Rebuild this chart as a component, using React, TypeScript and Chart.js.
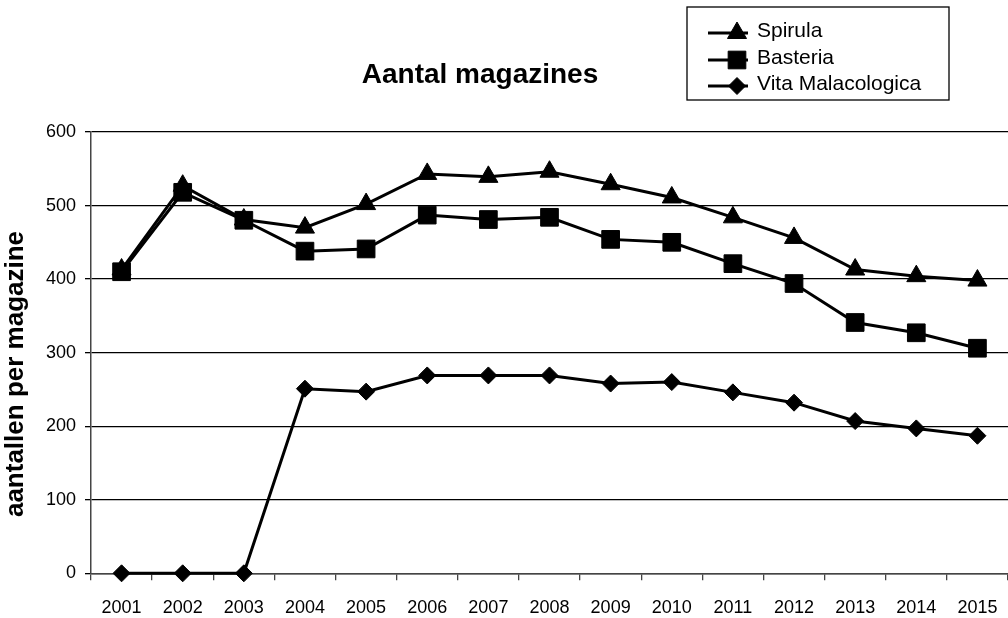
import React, { useEffect, useRef } from 'react';
import { Chart, registerables } from 'chart.js';

Chart.register(...registerables);

const FONT = '"Liberation Sans", Arial, Helvetica, sans-serif';

const TITLE = 'Aantal magazines';
const Y_TITLE = 'aantallen per magazine';

const years = ['2001', '2002', '2003', '2004', '2005', '2006', '2007', '2008', '2009', '2010', '2011', '2012', '2013', '2014', '2015'];
const spirula = [413, 527, 481, 470, 502, 543, 539, 546, 529, 511, 484, 456, 413, 404, 398];
const basteria = [410, 518, 480, 438, 441, 487, 481, 484, 454, 450, 421, 394, 341, 327, 306];
const vita = [0, 0, 0, 251, 247, 269, 269, 269, 258, 260, 246, 232, 207, 197, 187];

const seriesNames = ['Spirula', 'Basteria', 'Vita Malacologica'];
const seriesValues = [spirula, basteria, vita];
const seriesMarkers = ['triangle', 'rect', 'rectRot'];
const markerRadii = [11, 12.5, 8.5];

const yMin = 0;
const yMax = 600;
const yStep = 100;

function drawMarker(ctx: CanvasRenderingContext2D, style: string, x: number, y: number, r: number) {
  ctx.beginPath();
  if (style === 'triangle') {
    ctx.moveTo(x, y - r);
    ctx.lineTo(x + r * Math.sin(Math.PI * 2 / 3), y + r / 2);
    ctx.lineTo(x - r * Math.sin(Math.PI * 2 / 3), y + r / 2);
    ctx.closePath();
  } else if (style === 'rect') {
    const s = Math.SQRT1_2 * r;
    ctx.rect(x - s, y - s, 2 * s, 2 * s);
  } else {
    ctx.moveTo(x, y - r);
    ctx.lineTo(x + r, y);
    ctx.lineTo(x, y + r);
    ctx.lineTo(x - r, y);
    ctx.closePath();
  }
  ctx.fill();
  ctx.stroke();
}

const overlayPlugin = {
  id: 'overlay',
  afterDraw(chart: any) {
    const ctx: CanvasRenderingContext2D = chart.ctx;
    ctx.save();
    ctx.fillStyle = '#000';
    ctx.strokeStyle = '#000';

    // Title
    ctx.font = `bold 28px ${FONT}`;
    ctx.textAlign = 'center';
    ctx.textBaseline = 'alphabetic';
    ctx.fillText(TITLE, 480, 83);

    // Y axis title
    ctx.save();
    ctx.translate(16, 374);
    ctx.rotate(-Math.PI / 2);
    ctx.font = `bold 26px ${FONT}`;
    ctx.textAlign = 'center';
    ctx.textBaseline = 'middle';
    ctx.fillText(Y_TITLE, 0, 0);
    ctx.restore();

    // Legend box
    ctx.lineWidth = 1.3;
    ctx.strokeRect(687, 7, 262, 93);
    const rowsY = [33, 60, 86];
    ctx.font = `21px ${FONT}`;
    ctx.textAlign = 'left';
    ctx.textBaseline = 'alphabetic';
    seriesNames.forEach((name, i) => {
      const y = rowsY[i];
      ctx.lineWidth = 3;
      ctx.beginPath();
      ctx.moveTo(708, y);
      ctx.lineTo(748, y);
      ctx.stroke();
      ctx.lineWidth = 1;
      drawMarker(ctx, seriesMarkers[i], 737, y, markerRadii[i]);
      ctx.fillText(name, 757, y + 4);
    });
    ctx.restore();
  },
};

export default function App() {
  const canvasRef = useRef<HTMLCanvasElement | null>(null);

  useEffect(() => {
    const canvas = canvasRef.current;
    if (!canvas) return;
    const chart = new Chart(canvas, {
      type: 'line',
      data: {
        labels: years,
        datasets: seriesNames.map((name, i) => ({
          label: name,
          data: seriesValues[i],
          borderColor: '#000',
          backgroundColor: '#000',
          borderWidth: 3,
          tension: 0,
          fill: false,
          clip: false,
          pointStyle: seriesMarkers[i] as any,
          pointRadius: markerRadii[i],
          pointHoverRadius: markerRadii[i],
          pointBackgroundColor: '#000',
          pointBorderColor: '#000',
          pointBorderWidth: 1,
        })),
      },
      options: {
        responsive: false,
        animation: false,
        events: [],
        layout: { autoPadding: false, padding: { top: 132, right: 0, bottom: 0, left: 0 } },
        plugins: {
          legend: { display: false },
          title: { display: false },
          tooltip: { enabled: false },
        },
        scales: {
          x: {
            type: 'category',
            offset: true,
            grid: {
              offset: true,
              drawOnChartArea: false,
              drawTicks: true,
              tickLength: 7,
              color: '#444',
              lineWidth: 1.3,
            },
            border: { color: '#444', width: 1.5 },
            ticks: {
              color: '#000',
              font: { family: FONT, size: 18 },
              padding: 17,
              maxRotation: 0,
              autoSkip: false,
            },
            afterFit: (s: any) => {
              s.height = 44.7;
              s.paddingLeft = 0;
              s.paddingRight = 0;
            },
          },
          y: {
            min: yMin,
            max: yMax,
            ticks: {
              stepSize: yStep,
              color: '#000',
              font: { family: FONT, size: 18 },
              padding: 9,
            },
            grid: {
              color: '#000',
              lineWidth: 1.3,
              tickLength: 6,
              drawTicks: true,
            },
            border: { color: '#444', width: 1.5 },
            afterFit: (s: any) => {
              s.width = 91;
            },
          },
        },
      },
      plugins: [overlayPlugin],
    });
    return () => chart.destroy();
  }, []);

  return (
    <div style={{ position: 'absolute', left: 0, top: 0, width: 1008, height: 618, background: '#fff' }}>
      <canvas ref={canvasRef} width={1008} height={618} style={{ display: 'block' }} />
    </div>
  );
}
